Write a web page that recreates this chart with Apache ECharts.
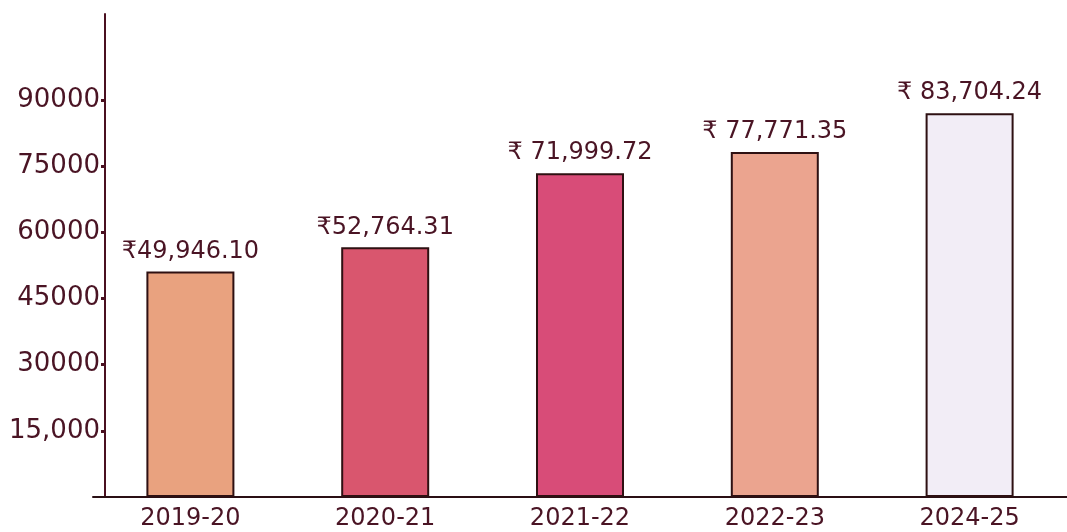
<!DOCTYPE html>
<html>
<head>
<meta charset="utf-8">
<script src="https://cdn.jsdelivr.net/npm/echarts@6/dist/echarts.min.js"></script>
<style>
  html, body { margin: 0; padding: 0; background: #fff; }
  #chart { width: 1067px; height: 532px; }
</style>
</head>
<body>
<div id="chart"></div>
<script>
const years = ['2019-20', '2020-21', '2021-22', '2022-23', '2024-25'];
// bar heights as drawn against the hand-drawn axis
const barValues = [51100, 56600, 73400, 78200, 87000];
// values as written above each bar
const valueLabels = ['₹49,946.10', '₹52,764.31', '₹ 71,999.72', '₹ 77,771.35', '₹ 83,704.24'];
const barColors = ['#e9a27f', '#d9566e', '#d84c78', '#eba48f', '#f2edf6'];
const yTicks = [15000, 30000, 45000, 60000, 75000, 90000];
const yTickText = ['15,000', '30000', '45000', '60000', '75000', '90000'];

const ink = '#4a1424';
const font = 'DejaVu Sans';

const chart = echarts.init(document.getElementById('chart'));
chart.setOption({
  animation: false,
  grid: { left: 93, right: -20, top: 14, bottom: 35 },
  xAxis: {
    type: 'category',
    data: years,
    axisLine: { lineStyle: { color: '#2a0f14', width: 2 } },
    axisTick: { show: false },
    axisLabel: {
      color: ink, fontFamily: font, fontSize: 24, margin: 10
    }
  },
  yAxis: {
    type: 'value',
    min: 0,
    max: 109500,
    interval: 15000,
    offset: -12,
    splitLine: { show: false },
    axisLine: { show: true, lineStyle: { color: '#4a1020', width: 2 } },
    axisTick: {
      show: true, length: 4, inside: false,
      customValues: yTicks,
      lineStyle: { color: '#4a1020', width: 3 }
    },
    axisLabel: {
      color: ink, fontFamily: font, fontSize: 26, margin: 5,
      customValues: yTicks,
      formatter: (v) => yTickText[yTicks.indexOf(v)] || ''
    }
  },
  series: [{
    type: 'bar',
    barWidth: 88,
    data: barValues.map((v, i) => ({
      value: v,
      itemStyle: { color: barColors[i] },
      label: { formatter: valueLabels[i] }
    })),
    itemStyle: { borderColor: '#2e1012', borderWidth: 2 },
    label: {
      show: true,
      position: 'top',
      distance: 8,
      color: ink,
      fontFamily: font,
      fontSize: 24
    }
  }]
});
</script>
</body>
</html>
